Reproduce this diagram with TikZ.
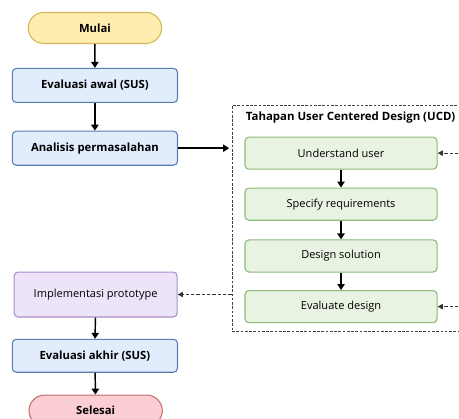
\documentclass[tikz,border=0pt]{standalone}
\usepackage{fontspec}
\setmainfont{Open Sans}
\usepackage{tikz}
\usetikzlibrary{positioning, arrows.meta, shapes.misc, fit}
\definecolor{startfill}{RGB}{253,238,175}
\definecolor{startline}{RGB}{214,182,86}
\definecolor{bluefill}{RGB}{225,237,252}
\definecolor{blueline}{RGB}{90,125,180}
\definecolor{greenfill}{RGB}{232,243,226}
\definecolor{greenline}{RGB}{140,185,120}
\definecolor{purplefill}{RGB}{237,228,250}
\definecolor{purpleline}{RGB}{170,140,200}
\definecolor{endfill}{RGB}{250,206,210}
\definecolor{endline}{RGB}{200,110,110}
\tikzset{
  termnode/.style={rounded rectangle, thick, minimum width=3.76cm, minimum height=0.82cm,
    font=\fontsize{8.5}{10}\selectfont\bfseries},
  procnode/.style={draw=blueline, thick, fill=bluefill, rounded corners=3pt,
    minimum width=4.37cm, minimum height=0.9cm, font=\fontsize{8.5}{10}\selectfont\bfseries},
  ucdnode/.style={draw=greenline, thick, fill=greenfill, rounded corners=3pt,
    minimum width=5.08cm, minimum height=0.85cm, font=\fontsize{8.3}{10}\selectfont},
  flowarrow/.style={draw=black, line width=1.1pt, -{Triangle[length=4.5pt,width=5.5pt]}},
  backarrow/.style={draw=black!80, thick, dash pattern=on 2.5pt off 1.5pt,
    -{Triangle[length=4pt,width=4pt]}}
}
\begin{document}
\begin{tikzpicture}
  \clip (0,0) rectangle (12.14,-11.06);
  \fill[white] (0,0) rectangle (12.14,-11.06);
  % left column
  \node[termnode, draw=startline, fill=startfill] (mulai) at (2.51,-0.74) {Mulai};
  \node[procnode] (evalawal) at (2.51,-2.26) {Evaluasi awal (SUS)};
  \node[procnode] (analisis) at (2.51,-3.92) {Analisis permasalahan};
  \node[procnode, draw=purpleline, fill=purplefill, minimum width=4.31cm, minimum height=1.19cm,
    font=\fontsize{8.3}{10}\selectfont] (proto) at (2.53,-7.79) {Implementasi prototype};
  \node[procnode, minimum height=0.87cm] (evalakhir) at (2.51,-9.41) {Evaluasi akhir (SUS)};
  \node[termnode, draw=endline, fill=endfill] (selesai) at (2.53,-10.86) {Selesai};
  % UCD stages
  \node[ucdnode] (understand) at (9.02,-4.05) {Understand user};
  \node[ucdnode] (specify) at (9.02,-5.40) {Specify requirements};
  \node[ucdnode] (design) at (9.02,-6.77) {Design solution};
  \node[ucdnode] (evaluate) at (9.02,-8.11) {Evaluate design};
  \node[draw=black!75, thick, dash pattern=on 2pt off 1.2pt, inner sep=0pt,
    fit={(6.14,-2.80) (12.6,-8.76)}] (ucd) {};
  \node[anchor=west, font=\fontsize{8.6}{10}\selectfont\bfseries] (ucdtitle) at (6.38,-3.12)
    {Tahapan User Centered Design (UCD)};
  \coordinate (loopin1) at (12.4,-4.05);
  \coordinate (loopin2) at (12.4,-8.11);
  % connectors
  \draw[flowarrow] (mulai) -- (evalawal);
  \draw[flowarrow] (evalawal) -- (analisis);
  \draw[flowarrow] (analisis.east) -- ++(1.35,0);
  \draw[flowarrow] (understand) -- (specify);
  \draw[flowarrow] (specify) -- (design);
  \draw[flowarrow] (design) -- (evaluate);
  \draw[backarrow] (loopin1) -- (understand);
  \draw[backarrow] (loopin2) -- (evaluate);
  \draw[backarrow] (proto -| ucd.west) -- (proto);
  \draw[flowarrow] (proto) -- (evalakhir);
  \draw[flowarrow] (evalakhir) -- (selesai);
\end{tikzpicture}
\end{document}
